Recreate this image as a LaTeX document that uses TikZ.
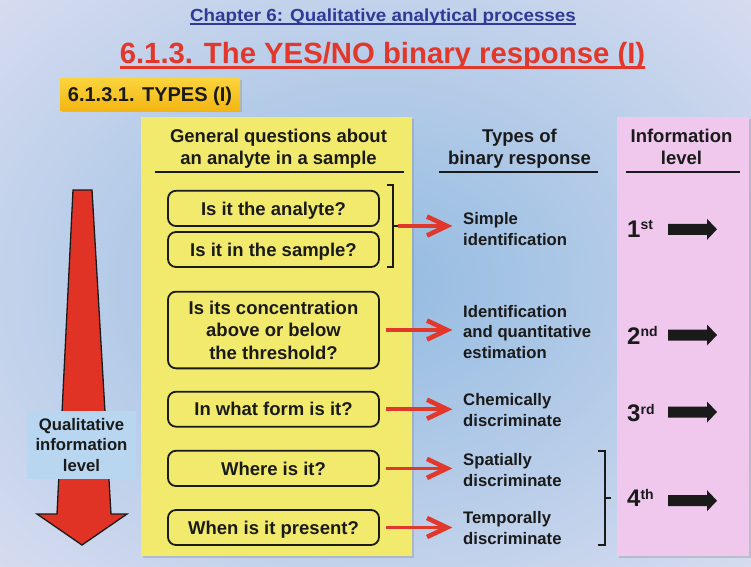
\documentclass[tikz,border=0pt]{standalone}
\usepackage{fontspec}
\setmainfont{Liberation Sans}
\usetikzlibrary{arrows.meta,shadows}
\definecolor{bgin}{HTML}{93BBE1}
\definecolor{bgout}{HTML}{F3EAF6}
\definecolor{qyellow}{HTML}{F2EA6C}
\definecolor{lpink}{HTML}{F0C8EE}
\definecolor{chblue}{HTML}{2E3A96}
\definecolor{tred}{HTML}{E2382B}
\definecolor{bigred}{HTML}{E03325}
\definecolor{lblbox}{HTML}{B8D6EF}
\definecolor{orgtop}{HTML}{FAD43C}
\definecolor{orgbot}{HTML}{F4B714}
\definecolor{ink}{HTML}{1A1A1A}
\newcommand{\fsz}[2]{\fontsize{#1}{#2}\selectfont}
\begin{document}
\begin{tikzpicture}[x=1pt,y=-1pt,
  panel/.style={inner sep=0pt, draw=none, drop shadow={opacity=0.3, shadow xshift=2pt, shadow yshift=-2pt}},
  qbox/.style={draw=ink, line width=1.8pt, rounded corners=8pt, fill=qyellow, minimum width=211pt, align=center, font=\bfseries\fsz{18.5}{22.5}, text=ink, inner sep=0pt},
  onel/.style={text height=13.4pt, text depth=0pt},
  resp/.style={anchor=north west, align=left, font=\bfseries\fsz{16.7}{20.5}, text=ink, inner sep=0pt},
  hdr/.style={anchor=north, align=center, font=\bfseries\fsz{18.5}{21.5}, text=ink, inner sep=0pt},
  hline/.style={draw=ink, line width=1.6pt},
  redarr/.style={draw=tred, line width=3.8pt},
  redhead/.pic={\draw[tred, line width=4.6pt, line join=miter, miter limit=10] (-20,-9.5) -- (0,0) -- (-20,9.5);},
  brk/.style={draw=ink, line width=1.4pt},
  lvl/.style={anchor=base west, font=\bfseries\fsz{24}{24}, text=ink, inner sep=0pt},
  blkarrow/.pic={\fill[ink] (0,-5.5) -- (39,-5.5) -- (39,-10.5) -- (49,0) -- (39,10.5) -- (39,5.5) -- (0,5.5) -- cycle;}
]
\useasboundingbox (0,0) rectangle (751,566);
% background
\begin{scope}
\clip (0,0) rectangle (751,566);
\fill[bgout] (0,0) rectangle (751,566);
\shade[inner color=bgin, outer color=bgout] (-375,-300) rectangle (1126,866);
\end{scope}
% titles
\node[anchor=base, inner sep=0pt, text=chblue, font=\bfseries\fsz{17.5}{20}] (ch) at (383,21.5) {\scalebox{1.076}[1]{Chapter 6: Qualitative analytical processes}};
\draw[chblue, line width=1.6pt] ([yshift=-2.2pt]ch.base west) -- ([yshift=-2.2pt]ch.base east);
\node[anchor=base, inner sep=0pt, text=tred, font=\bfseries\fsz{29.3}{32}] (tt) at (382.5,63.3) {6.1.3. The YES/NO binary response (I)};
\draw[tred, line width=2.8pt] ([yshift=-3.8pt]tt.base west) -- ([yshift=-3.8pt]tt.base east);
% types box
\node[panel, top color=orgtop, bottom color=orgbot, minimum width=180pt, minimum height=32pt, font=\bfseries\fsz{20}{22}, text=ink, text height=14.3pt, text depth=0pt] (types) at (150,94) {6.1.3.1. TYPES (I)};
% panels
\node[panel, fill=qyellow, minimum width=271pt, minimum height=439pt] (yp) at (276.5,336.5) {};
\node[panel, fill=lpink, minimum width=132pt, minimum height=439pt] (pp) at (683,336.5) {};
% big red arrow
\draw[fill=bigred, draw=ink, line width=1.3pt, line join=miter] (73,190) -- (92,190) -- (111,514) -- (127,514) -- (82,545) -- (37,514) -- (57,514) -- cycle;
\node[fill=lblbox, minimum width=109pt, minimum height=68pt, inner sep=0pt, align=center, font=\bfseries\fsz{16.7}{20.5}, text=ink] (qil) at (81.5,445) {Qualitative\\information\\level};
% headers
\node[hdr] (h1) at (278.5,127.7) {\strut General questions about\\an analyte in a sample};
\draw[hline] (155,172) -- (404,172);
\node[hdr] (h2) at (519.5,127.7) {\strut Types of\\binary response};
\draw[hline] (439,172) -- (598,172);
\node[hdr] (h3) at (681.5,127.7) {\strut Information\\level};
\draw[hline] (626,172) -- (740,172);
% question boxes
\node[qbox, onel, minimum height=35.3pt] (q1) at (273.5,208.4) {Is it the analyte?};
\node[qbox, onel, minimum height=35pt] (q2) at (273.5,249.5) {Is it in the sample?};
\node[qbox, minimum height=76.7pt] (q3) at (273.5,330) {Is its concentration\\above or below\\the threshold?};
\node[qbox, onel, minimum height=35pt] (q4) at (273.5,409.2) {In what form is it?};
\node[qbox, onel, minimum height=35.3pt] (q5) at (273.5,468.4) {Where is it?};
\node[qbox, onel, minimum height=35pt] (q6) at (273.5,527.5) {When is it present?};
% bracket for q1,q2
\draw[brk] (387,185) -- (393,185) -- (393,267) -- (387,267);
\draw[brk] (393,226) -- (398,226);
\coordinate (brt) at (398,226);
\coordinate (tipx) at (447,0);
% responses
\node[resp] (r1) at (463,210) {\strut Simple\\identification};
\node[resp] (r2) at (463,302.7) {\strut Identification\\and quantitative\\estimation};
\node[resp] (r3) at (463,391) {\strut Chemically\\discriminate};
\node[resp] (r4) at (463,451) {\strut Spatially\\discriminate};
\node[resp] (r5) at (463,509.3) {\strut Temporally\\discriminate};
% red arrows
\draw[redarr] (brt) -- (brt -| tipx);
\pic at (brt -| tipx) {redhead};
\draw[redarr] ([xshift=6pt]q3.east) -- (q3.east -| tipx);
\pic at (q3.east -| tipx) {redhead};
\draw[redarr] ([xshift=6pt]q4.east) -- (q4.east -| tipx);
\pic at (q4.east -| tipx) {redhead};
\draw[redarr] ([xshift=6pt]q5.east) -- (q5.east -| tipx);
\pic at (q5.east -| tipx) {redhead};
\draw[redarr] ([xshift=6pt]q6.east) -- (q6.east -| tipx);
\pic at (q6.east -| tipx) {redhead};
% bracket for r4,r5
\draw[brk] (598,451) -- (605,451) -- (605,545) -- (598,545);
\draw[brk] (605,498) -- (611,498);
% levels
\node[lvl] (l1) at (627,237) {1{\fsz{14}{14}\raisebox{7.5pt}{st}}};
\node[lvl] (l2) at (627,344) {2{\fsz{14}{14}\raisebox{7.5pt}{nd}}};
\node[lvl] (l3) at (627,421.7) {3{\fsz{14}{14}\raisebox{7.5pt}{rd}}};
\node[lvl] (l4) at (627,506.7) {4{\fsz{14}{14}\raisebox{7.5pt}{th}}};
\pic at (668,229.3) {blkarrow};
\pic at (668,335) {blkarrow};
\pic at (668,412) {blkarrow};
\pic at (668,500.7) {blkarrow};
\end{tikzpicture}
\end{document}
